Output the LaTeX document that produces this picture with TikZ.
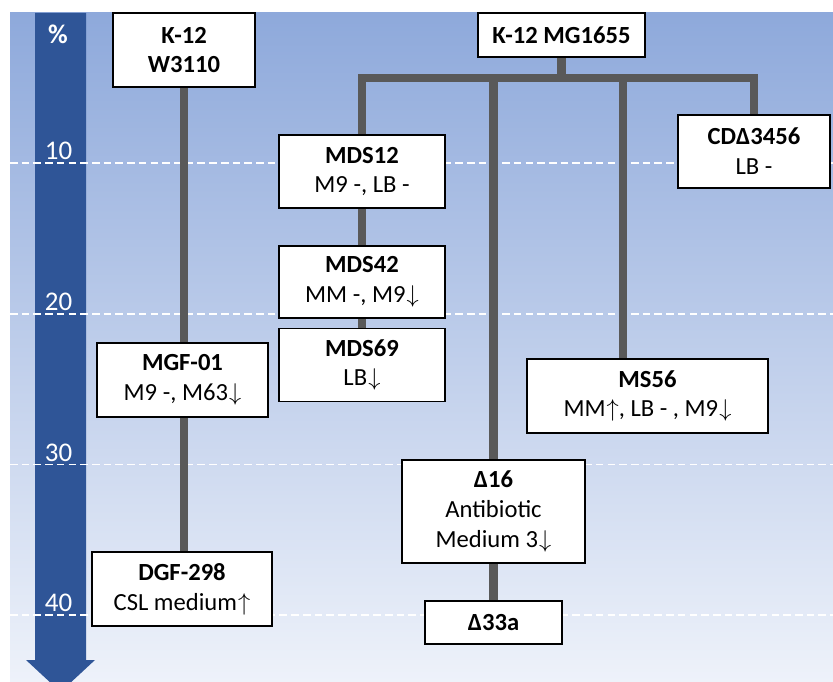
\documentclass[tikz,border=0pt]{standalone}
\usepackage{fontspec}
\setmainfont{Carlito}
\usepackage{xcolor}
\definecolor{bgtop}{HTML}{8EA9DB}
\definecolor{bgbottom}{HTML}{EEF2FA}
\definecolor{scalebar}{HTML}{2F5597}
\definecolor{stemgray}{HTML}{595959}
\usepackage{tikz}
\usetikzlibrary{positioning, backgrounds}
\pgfdeclarelayer{stems}
\pgfsetlayers{background,stems,main}
\newcommand{\arrdn}{\kern1pt$\downarrow$}
\newcommand{\arrup}{\kern1pt$\uparrow$}

\begin{document}
\begin{tikzpicture}[
			x=0.03cm, y=-0.03cm,
			font=\fontsize{21}{25.5}\selectfont,
			strain/.style={
				rectangle,
				draw=black,
				line width=1.5pt,
				fill=white,
				align=center,
				inner sep=0pt,
			},
			stem/.style={draw=stemgray, line width=7.2pt},
			level/.style={draw=white, line width=1.5pt, dash pattern=on 6.5pt off 3.5pt},
			pct/.style={text=white, font=\fontsize{23}{26}\selectfont},
			]
			\useasboundingbox (0,0) rectangle (833,682);
			\begin{scope}[on background layer]
				\shade[top color=bgtop, bottom color=bgbottom] (10,13) rectangle (833,682);
				\fill[scalebar] (35,13) -- (86,13) -- (86,660) -- (95,660) -- (60.5,692) -- (26,660) -- (35,660) -- cycle;
				\foreach \i in {1,...,4}
					\draw[level] (10,{12.4+150.7*\i}) -- (833,{12.4+150.7*\i});
			\end{scope}
			
			\node[pct, font=\bfseries\fontsize{23}{26}\selectfont] (pcthead) at (58,34) {\%};
			\foreach \v [count=\i] in {10,20,30,40}
				\node[pct] (pct\v) at (58.5,{0.4+150.7*\i}) {\v};
			
			\node[strain, minimum width=4.26cm, minimum height=2.22cm] (w3110) at (184,50) {\textbf{K-12}\\\textbf{W3110}};
			\node[strain, minimum width=5.01cm, minimum height=1.32cm] (mg1655) at (561.5,35) {\textbf{K-12 MG1655}};
			\node[strain, minimum width=4.98cm, minimum height=2.19cm] (mds12) at (362,171.5) {\textbf{MDS12}\\M9 -, LB -};
			\node[strain, minimum width=4.98cm, minimum height=2.16cm, below=1.08cm of mds12] (mds42) {\textbf{MDS42}\\MM -, M9\arrdn};
			\node[strain, minimum width=4.98cm, minimum height=2.19cm, below=0.27cm of mds42] (mds69) {\textbf{MDS69}\\LB\arrdn};
			\node[strain, minimum width=4.56cm, minimum height=2.19cm] (cd3456) at (754,151.5) {\textbf{CDΔ3456}\\LB -};
			\node[strain, minimum width=5.13cm, minimum height=2.22cm] (mgf01) at (182.5,380) {\textbf{MGF-01}\\M9 -, M63\arrdn};
			\node[strain, minimum width=5.40cm, minimum height=2.22cm] (dgf298) at (182,589) {\textbf{DGF-298}\\CSL medium\arrup};
			\node[strain, minimum width=7.23cm, minimum height=2.22cm] (ms56) at (647.5,396) {\textbf{MS56}\\MM\arrup, LB - , M9\arrdn};
			\node[strain, minimum width=5.49cm, minimum height=3.09cm] (d16) at (493.5,511.5) {\textbf{Δ16}\\Antibiotic\\Medium 3\arrdn};
			\node[strain, minimum width=4.11cm, minimum height=1.29cm, below=1.08cm of d16] (d33a) {\textbf{Δ33a}};
			
			\begin{pgfonlayer}{stems}
				\coordinate[below=0.6cm of mg1655.south] (bar);
				\coordinate (ms56stem) at ([xshift=-0.735cm]ms56.north);
				\draw[stem] (mds12.north) |- (bar) -| (cd3456.north);
				\draw[stem] (mg1655.south) -- (bar);
				\draw[stem] (d16.north |- bar) -- (d16.north);
				\draw[stem] (ms56stem |- bar) -- (ms56stem);
				\draw[stem] (mds12) -- (mds69);
				\draw[stem] (d16) -- (d33a);
				\draw[stem] (w3110.south) -- (w3110.south |- dgf298.north);
			\end{pgfonlayer}
		\end{tikzpicture}
\end{document}
